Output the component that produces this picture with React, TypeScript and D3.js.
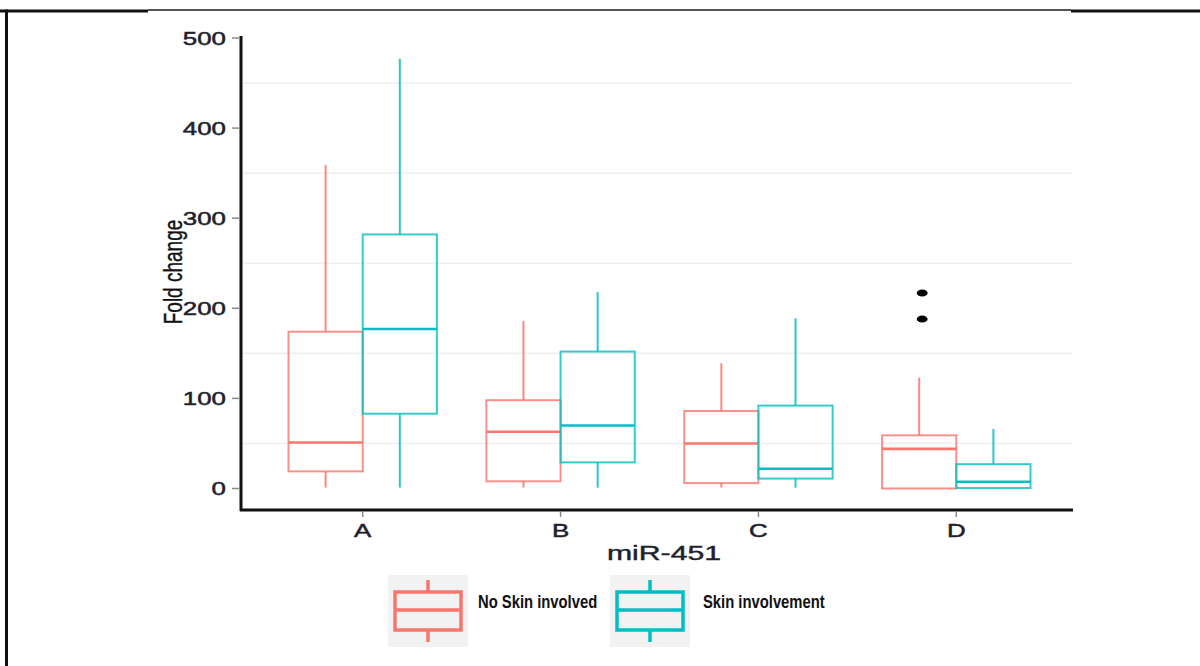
import React, { useEffect, useRef } from "react";
import * as d3 from "d3";

const categories = ["A", "B", "C", "D"];
const groupNames = ["No Skin involved", "Skin involvement"];
const groupColors = ["#F8766D", "#00BFC4"];

// [min, q1, median, q3, max]
const noSkinStats = [
  [1, 19, 51, 174, 359],
  [1, 8, 63, 98, 186],
  [1, 6, 50, 86, 139],
  [0, 0, 44, 59, 123],
];
const skinStats = [
  [1, 83, 177, 282, 477],
  [1, 29, 70, 152, 218],
  [1, 11, 22, 92, 189],
  [0, 0.5, 7.5, 27, 66],
];
const noSkinOutliers = [[], [], [], [217, 188]];
const skinOutliers = [[], [], [], []];

const yTicks = [0, 100, 200, 300, 400, 500];
const yGrid = [50, 150, 250, 350, 450];

const App = () => {
  const ref = useRef<SVGSVGElement>(null);

  useEffect(() => {
    const svg = d3.select(ref.current);
    svg.selectAll("*").remove();

    const y = d3.scaleLinear().domain([0, 500]).range([488.5, 38]);
    const x = d3.scalePoint().domain(categories).range([244, 1075]).padding(0.6);
    const step = x.step();
    const boxW = step * 0.375;
    const font = "Liberation Sans, Arial, sans-serif";

    // outer frame
    svg.append("line").attr("x1", 0).attr("x2", 148).attr("y1", 11).attr("y2", 11)
      .attr("stroke", "#111").attr("stroke-width", 3);
    svg.append("line").attr("x1", 148).attr("x2", 1071).attr("y1", 10).attr("y2", 10)
      .attr("stroke", "#555").attr("stroke-width", 2);
    svg.append("line").attr("x1", 1071).attr("x2", 1200).attr("y1", 11).attr("y2", 11)
      .attr("stroke", "#111").attr("stroke-width", 3);
    svg.append("line").attr("x1", 6.5).attr("x2", 6.5).attr("y1", 9.5).attr("y2", 666)
      .attr("stroke", "#111").attr("stroke-width", 3);

    // grid
    svg.append("g").selectAll("line").data(yGrid).join("line")
      .attr("x1", 243).attr("x2", 1072)
      .attr("y1", d => y(d)).attr("y2", d => y(d))
      .attr("stroke", "#efefef").attr("stroke-width", 1.5);

    // boxes
    const series = [
      { stats: noSkinStats, outliers: noSkinOutliers, color: groupColors[0], off: -boxW / 2 },
      { stats: skinStats, outliers: skinOutliers, color: groupColors[1], off: boxW / 2 },
    ];
    series.forEach(s => {
      const g = svg.append("g").attr("stroke", s.color).attr("fill", "none");
      s.stats.forEach((st, i) => {
        const cx = (x(categories[i]) as number) + s.off;
        const [mn, q1, md, q3, mx] = st;
        g.append("line").attr("x1", cx).attr("x2", cx).attr("y1", y(q3)).attr("y2", y(mx))
          .attr("stroke-width", 2).attr("stroke-opacity", 0.85);
        g.append("line").attr("x1", cx).attr("x2", cx).attr("y1", y(q1)).attr("y2", y(mn))
          .attr("stroke-width", 2).attr("stroke-opacity", 0.85);
        g.append("rect").attr("x", cx - boxW / 2).attr("width", boxW)
          .attr("y", y(q3)).attr("height", y(q1) - y(q3))
          .attr("stroke-width", 2).attr("stroke-opacity", 0.8);
        g.append("line").attr("x1", cx - boxW / 2).attr("x2", cx + boxW / 2)
          .attr("y1", y(md)).attr("y2", y(md)).attr("stroke-width", 2.6);
        s.outliers[i].forEach(o => {
          svg.append("ellipse").attr("cx", cx + 3).attr("cy", y(o))
            .attr("rx", 5.5).attr("ry", 3.5).attr("fill", "#000");
        });
      });
    });

    // axes
    svg.append("line").attr("x1", 240).attr("x2", 1073).attr("y1", 510).attr("y2", 510)
      .attr("stroke", "#111").attr("stroke-width", 3);
    svg.append("line").attr("x1", 241).attr("x2", 241).attr("y1", 36).attr("y2", 511)
      .attr("stroke", "#111").attr("stroke-width", 3);

    const yt = svg.append("g").selectAll("g").data(yTicks).join("g");
    yt.append("line").attr("x1", 232).attr("x2", 240)
      .attr("y1", d => y(d)).attr("y2", d => y(d)).attr("stroke", "#888").attr("stroke-width", 1.5);
    yt.append("text")
      .attr("transform", d => `translate(226,${y(d)}) scale(1.4,1)`)
      .attr("dy", "0.36em").attr("text-anchor", "end")
      .attr("font-family", font).attr("font-size", 18.5)
      .attr("fill", "#1f1f2e").attr("stroke", "#1f1f2e").attr("stroke-width", 0.5)
      .text(d => d);

    const xt = svg.append("g").selectAll("g").data(categories).join("g");
    xt.append("line").attr("x1", d => x(d) as number).attr("x2", d => x(d) as number)
      .attr("y1", 512).attr("y2", 517).attr("stroke", "#888").attr("stroke-width", 1.5);
    xt.append("text")
      .attr("transform", d => `translate(${x(d)},530) scale(1.4,1)`)
      .attr("dy", "0.36em").attr("text-anchor", "middle")
      .attr("font-family", font).attr("font-size", 18.5)
      .attr("fill", "#1f1f2e").attr("stroke", "#1f1f2e").attr("stroke-width", 0.5)
      .text(d => d);

    svg.append("text")
      .attr("transform", "translate(664,553) scale(1.55,1)")
      .attr("dy", "0.36em").attr("text-anchor", "middle")
      .attr("font-family", font).attr("font-size", 19.5)
      .attr("fill", "#1f1f2e").attr("stroke", "#1f1f2e").attr("stroke-width", 0.4)
      .text("miR-451");

    svg.append("text")
      .attr("transform", "translate(173,272) scale(1.35,1) rotate(-90)")
      .attr("dy", "0.36em").attr("text-anchor", "middle")
      .attr("font-family", font).attr("font-size", 19)
      .attr("fill", "#111").attr("stroke", "#111").attr("stroke-width", 0.3)
      .text("Fold change");

    // legend
    const legendX = [388, 610];
    const labelX = [478, 703];
    groupNames.forEach((name, i) => {
      const lg = svg.append("g");
      const kx = legendX[i];
      const mid = kx + 40;
      lg.append("rect").attr("x", kx).attr("y", 575).attr("width", 80).attr("height", 72)
        .attr("fill", "#f2f2f2");
      const c = groupColors[i];
      lg.append("line").attr("x1", mid).attr("x2", mid).attr("y1", 580).attr("y2", 592)
        .attr("stroke", c).attr("stroke-width", 3.5);
      lg.append("line").attr("x1", mid).attr("x2", mid).attr("y1", 630).attr("y2", 642)
        .attr("stroke", c).attr("stroke-width", 3.5);
      lg.append("rect").attr("x", kx + 7).attr("y", 592).attr("width", 66).attr("height", 38)
        .attr("fill", "none").attr("stroke", c).attr("stroke-width", 3.5);
      lg.append("line").attr("x1", kx + 7).attr("x2", kx + 73).attr("y1", 610).attr("y2", 610)
        .attr("stroke", c).attr("stroke-width", 3.5);
      lg.append("text").attr("transform", `translate(${labelX[i]},601) scale(0.8,1)`)
        .attr("dy", "0.36em")
        .attr("font-family", font)
        .attr("font-weight", "bold").attr("font-size", 18.5)
        .attr("fill", "#111").text(name);
    });
  }, []);

  return (
    <div style={{ position: "absolute", left: 0, top: 0, width: 1200, height: 666, background: "#fff" }}>
      <svg ref={ref} width={1200} height={666} style={{ display: "block" }} />
    </div>
  );
};

export default App;
